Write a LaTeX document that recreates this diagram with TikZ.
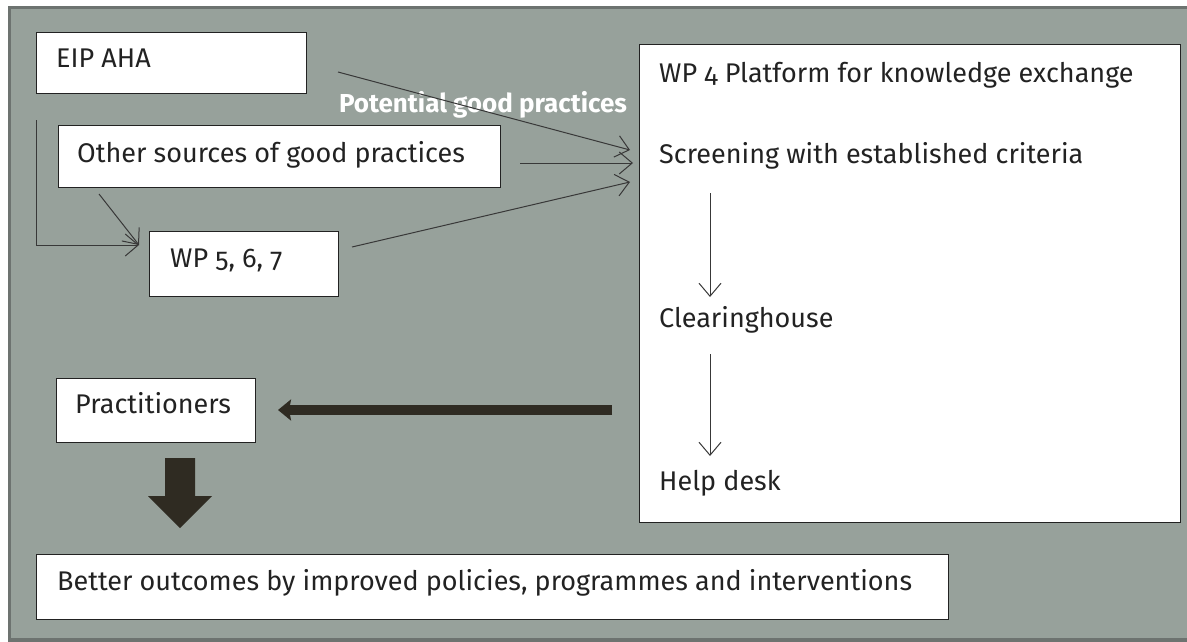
\documentclass[tikz,border=0pt]{standalone}
\usepackage{fontspec}
\setmainfont[Numbers=OldStyle]{Fira Sans}
\usetikzlibrary{arrows.meta}
\definecolor{panel}{HTML}{97A19B}
\definecolor{panelrim}{HTML}{6D7370}
\definecolor{ink}{HTML}{222222}
\definecolor{heavy}{HTML}{2F2B22}
\begin{document}
\begin{tikzpicture}[x=1pt,y=-1pt,
  box/.style={draw=ink,line width=1.2pt,fill=white,inner sep=0pt,anchor=north west},
  lbl/.style={anchor=base west,inner sep=0pt,text=ink,font=\fontsize{27}{32}\selectfont},
  flow/.style={draw=ink!90,line width=1pt,-{Straight Barb[length=13pt,width=22pt,line width=1pt]}},
  heavyarrow/.style={draw=heavy,line width=10pt,-{Stealth[length=13pt,width=21pt,inset=2pt]}},
]
\useasboundingbox (0,0) rectangle (1187,642);
% grey panel behind everything
\draw[panelrim,fill=panel,line width=3.5pt] (9.5,7.5) rectangle (1192,640);

% source boxes
\node[box,minimum width=270pt,minimum height=61pt] (eip) at (36,32) {};
\node[lbl] (eiptxt) at (56,67) {EIP AHA};
\node[box,minimum width=442pt,minimum height=62pt] (other) at (58,125) {};
\node[lbl] (othertxt) at (77,162) {Other sources of good practices};
\node[box,minimum width=189pt,minimum height=65pt] (wp) at (149,231) {};
\node[lbl] (wptxt) at (170,267) {WP 5, 6, 7};

% WP 4 platform
\node[box,minimum width=541pt,minimum height=478pt] (platform) at (639,44) {};
\node[lbl] (ptitle) at (659,83) {WP 4 Platform for knowledge exchange};
\node[lbl] (screen) at (659,163) {Screening with established criteria};
\node[lbl] (clear) at (659,327) {Clearinghouse};
\node[lbl] (help) at (659,490) {Help desk};

% users and outcome
\node[box,minimum width=199pt,minimum height=64pt] (pract) at (56,378) {};
\node[lbl] (practtxt) at (75,413) {Practitioners};
\node[box,minimum width=912pt,minimum height=65pt] (better) at (36,554) {};
\node[lbl] (bettertxt) at (57,590) {Better outcomes by improved policies, programmes and interventions};

\node[anchor=base,inner sep=0pt,text=white,font=\fontsize{26}{30}\selectfont\bfseries] (gp) at (483,113) {Potential good practices};

% connector end points
\coordinate (eipout) at (338,72);
\coordinate (otherout) at (520,163);
\coordinate (wpout) at (352,247);
\coordinate (in1) at (630,150);
\coordinate (in2) at (633,163);
\coordinate (in3) at (630,182);
\coordinate (leftdrop) at (36,120);
\coordinate (otherdrop) at (99,194);
\coordinate (wpin) at (139,245);
\coordinate (s1) at (710,193);
\coordinate (s1e) at (710,297);
\coordinate (s2) at (710,354);
\coordinate (s2e) at (710,456);
\coordinate (back) at (612,410);
\coordinate (backend) at (278,410);

\draw[flow] (eipout) -- (in1);
\draw[flow] (otherout) -- (in2);
\draw[flow] (wpout) -- (in3);
\draw[flow] (leftdrop) |- (wpin);
\draw[flow] (otherdrop) -- (wpin);
\draw[flow] (s1) -- (s1e);
\draw[flow] (s2) -- (s2e);
\draw[heavyarrow] (back) -- (backend);

% block arrow from practitioners down to outcomes
\coordinate (dtop) at (180,458);
\fill[heavy] (dtop) ++(-15,0) -- ++(30,0) -- ++(0,38) -- ++(17,0)
  -- (180,528) -- (148,496) -- ++(17,0) -- cycle;
\end{tikzpicture}
\end{document}
